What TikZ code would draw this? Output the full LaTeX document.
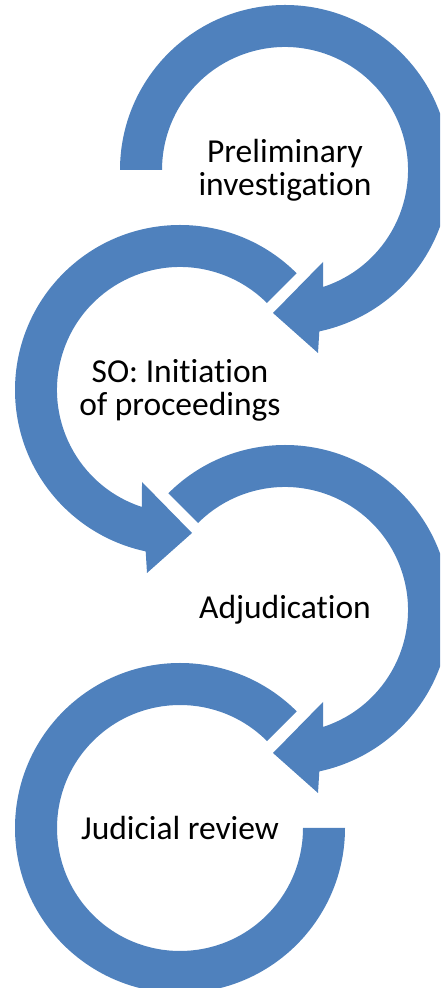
\documentclass[tikz,border=0pt]{standalone}
\usepackage{fontspec}
\setmainfont{Carlito}[Ligatures={NoCommon}]
\definecolor{stepblue}{HTML}{4F81BD}
\tikzset{
  steparc/.style={fill=stepblue},
  steplabel/.style={align=center, font=\fontsize{33.5}{33}\selectfont}
}

\begin{document}
\begin{tikzpicture}[x=1pt,y=1pt]
    \def\outr{165}
    \def\innr{123}
    \useasboundingbox (0,0) rectangle (440,988);
    \clip (0,0) rectangle (440,988);
    % first step, clockwise
    \begin{scope}[shift={(285,818)}]
      \fill[steparc] (180:\outr) arc[start angle=180, end angle=-78, radius=\outr]
        -- (33,-183) -- (-12,-143) -- (38,-92) -- (-72:\innr)
        arc[start angle=-72, end angle=180, radius=\innr] -- cycle;
    \end{scope}
    % second step, mirrored
    \begin{scope}[shift={(180,598)}, xscale=-1]
      \fill[steparc] (135:\outr) arc[start angle=135, end angle=-78, radius=\outr]
        -- (33,-183) -- (-12,-143) -- (38,-92) -- (-72:\innr)
        arc[start angle=-72, end angle=135, radius=\innr] -- cycle;
    \end{scope}
    % third step
    \begin{scope}[shift={(285,378)}]
      \fill[steparc] (135:\outr) arc[start angle=135, end angle=-78, radius=\outr]
        -- (33,-183) -- (-12,-143) -- (38,-92) -- (-72:\innr)
        arc[start angle=-72, end angle=135, radius=\innr] -- cycle;
    \end{scope}
    % last step, no head
    \begin{scope}[shift={(180,160)}]
      \fill[steparc] (0:\outr) arc[start angle=0, end angle=-315, radius=\outr]
        -- (45:\innr) arc[start angle=-315, end angle=0, radius=\innr] -- cycle;
    \end{scope}
    \node[steplabel] (prelim) at (285,818) {Preliminary\\investigation};
    \node[steplabel] (initiation) at (180,598) {SO: Initiation\\of proceedings};
    \node[steplabel] (adjud) at (285,378) {Adjudication};
    \node[steplabel] (review) at (180,160) {Judicial review};
  \end{tikzpicture}
\end{document}
